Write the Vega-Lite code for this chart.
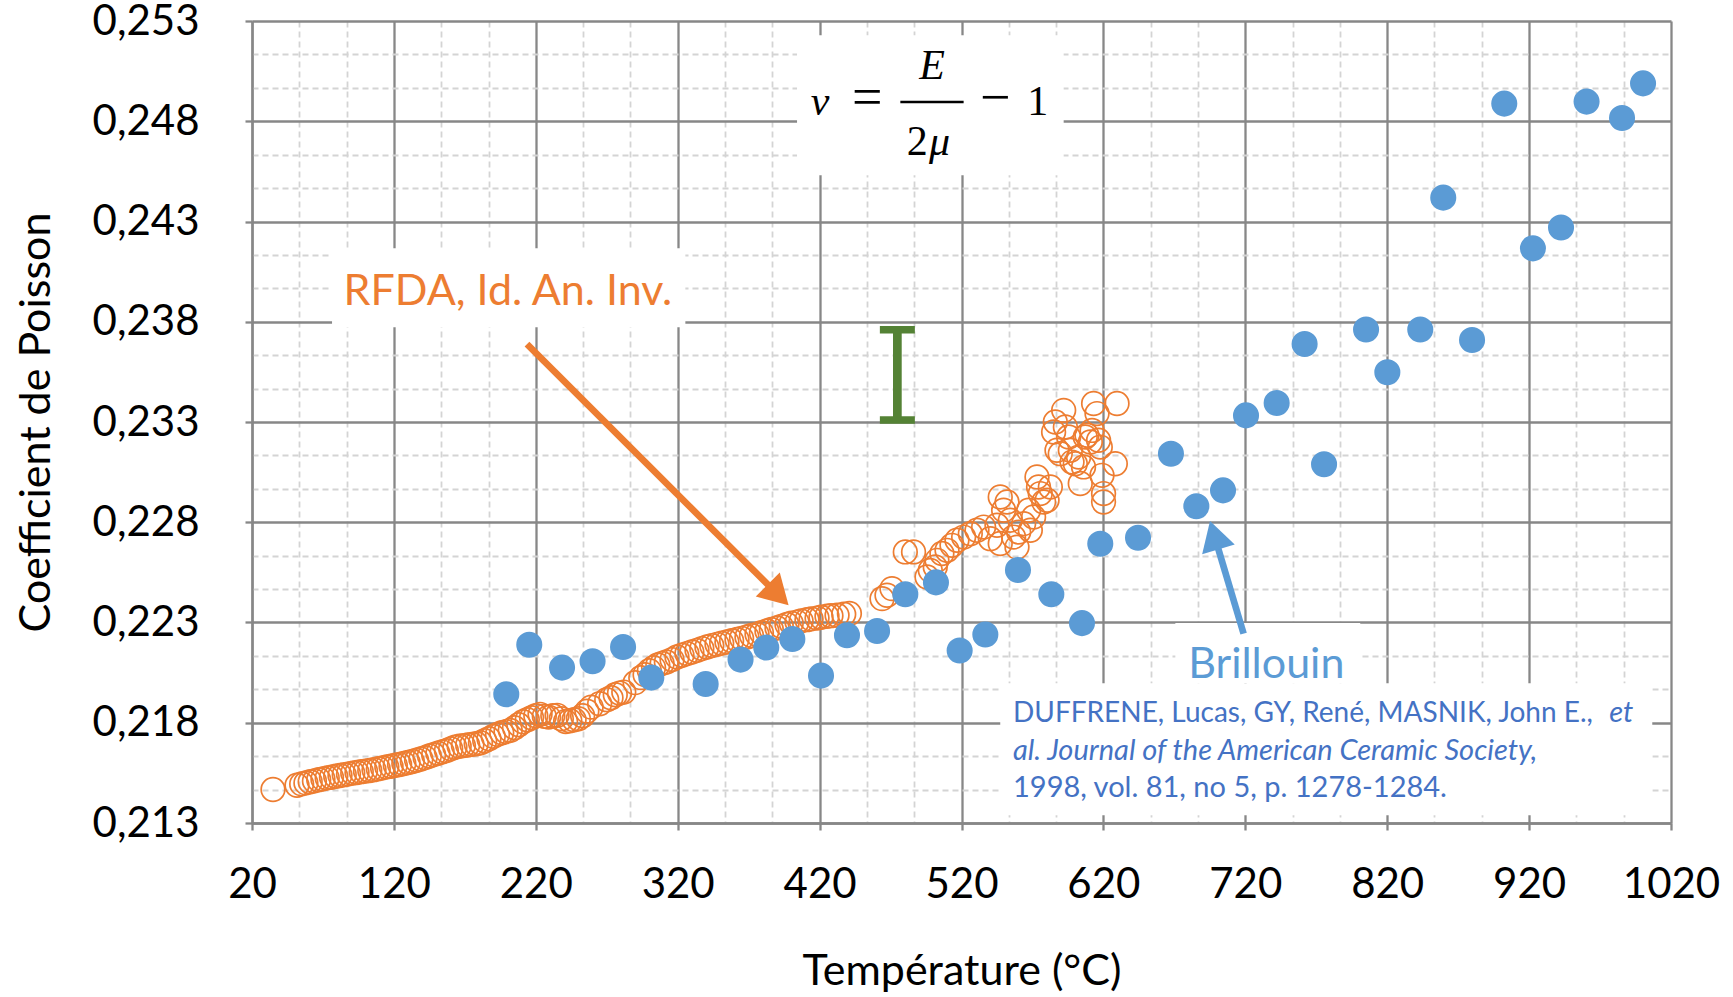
{
  "$schema": "https://vega.github.io/schema/vega-lite/v6.json",
  "width": 1419,
  "height": 802,
  "autosize": {"type": "none"},
  "padding": {"left": 252, "top": 21, "right": 62, "bottom": 174},
  "background": "white",
  "config": {"view": {"stroke": null}, "font": "Lato"},
  "datasets": {
    "rfda": [
      {"T":34.8,"nu":0.21467},{"T":51.7,"nu":0.21488},{"T":55,"nu":0.21495},{"T":58,"nu":0.215},{"T":61,"nu":0.21506},{"T":64,"nu":0.2151},{"T":67,"nu":0.21516},{"T":70,"nu":0.2152},{"T":73,"nu":0.21525},{"T":76,"nu":0.21528},{"T":79,"nu":0.21533},{"T":82,"nu":0.21537},{"T":85,"nu":0.21541},{"T":88,"nu":0.21545},{"T":91,"nu":0.21549},{"T":94,"nu":0.21552},{"T":97,"nu":0.21556},{"T":100,"nu":0.21559},{"T":103,"nu":0.21562},{"T":106,"nu":0.21566},{"T":109,"nu":0.21571},{"T":112,"nu":0.21575},{"T":115,"nu":0.2158},{"T":118,"nu":0.21583},{"T":121,"nu":0.21588},{"T":124,"nu":0.21592},{"T":127,"nu":0.21597},{"T":130,"nu":0.21602},{"T":133,"nu":0.21607},{"T":136,"nu":0.21613},{"T":139,"nu":0.21619},{"T":142,"nu":0.21626},{"T":145,"nu":0.21634},{"T":148,"nu":0.21641},{"T":151,"nu":0.21648},{"T":154,"nu":0.21655},{"T":157,"nu":0.21661},{"T":160,"nu":0.2167},{"T":163,"nu":0.21678},{"T":166,"nu":0.21683},{"T":169,"nu":0.21686},{"T":172,"nu":0.21689},{"T":175,"nu":0.21692},{"T":178,"nu":0.21695},{"T":181,"nu":0.217},{"T":184,"nu":0.2171},{"T":187,"nu":0.2172},{"T":190,"nu":0.21732},
      {"T":193,"nu":0.21742},{"T":196,"nu":0.2175},{"T":199,"nu":0.21756},{"T":202,"nu":0.21762},{"T":205,"nu":0.21775},{"T":208,"nu":0.2179},{"T":211,"nu":0.21805},{"T":214,"nu":0.21815},{"T":217,"nu":0.21825},{"T":220,"nu":0.21835},{"T":223,"nu":0.21842},{"T":226,"nu":0.21832},{"T":229,"nu":0.21828},{"T":232,"nu":0.21835},{"T":235,"nu":0.21837},{"T":238,"nu":0.2182},{"T":241,"nu":0.21806},{"T":244,"nu":0.2181},{"T":247,"nu":0.21815},{"T":250,"nu":0.2182},{"T":253,"nu":0.21835},{"T":256,"nu":0.21858},{"T":259,"nu":0.21878},{"T":265,"nu":0.21895},{"T":270,"nu":0.21915},{"T":273,"nu":0.21925},{"T":276,"nu":0.2194},{"T":279,"nu":0.21948},{"T":282,"nu":0.21953},{"T":290,"nu":0.22},{"T":294,"nu":0.22025},{"T":297,"nu":0.2204},{"T":300,"nu":0.2206},{"T":303,"nu":0.22075},{"T":306,"nu":0.22088},{"T":309,"nu":0.22096},{"T":312,"nu":0.22103},{"T":316,"nu":0.22115},
      {"T":319.5,"nu":0.22128},{"T":323,"nu":0.22137},{"T":326.5,"nu":0.22145},{"T":330,"nu":0.22153},{"T":333.6,"nu":0.22161},{"T":337,"nu":0.2217},{"T":340.6,"nu":0.22178},{"T":344,"nu":0.22185},{"T":347.7,"nu":0.22191},{"T":351,"nu":0.22197},{"T":354.7,"nu":0.22203},{"T":358,"nu":0.22209},{"T":361.8,"nu":0.22215},{"T":365,"nu":0.22221},{"T":368.8,"nu":0.22228},{"T":372,"nu":0.22235},{"T":375.9,"nu":0.22241},{"T":379,"nu":0.22249},{"T":382.9,"nu":0.22258},{"T":386,"nu":0.22265},{"T":390,"nu":0.22273},{"T":393,"nu":0.22281},{"T":397,"nu":0.2229},{"T":400,"nu":0.22296},{"T":404.1,"nu":0.22302},{"T":407,"nu":0.22308},{"T":411.1,"nu":0.22314},{"T":414,"nu":0.22318},{"T":418.2,"nu":0.22322},{"T":421,"nu":0.22326},{"T":425.2,"nu":0.22331},{"T":428,"nu":0.22334},{"T":432.3,"nu":0.22336},{"T":437,"nu":0.22341},{"T":441,"nu":0.22345},
      {"T":464,"nu":0.22419},{"T":467.5,"nu":0.22436},{"T":471,"nu":0.22469},{"T":480.4,"nu":0.22652},{"T":486.2,"nu":0.22652},{"T":495.7,"nu":0.22527},{"T":498,"nu":0.2256},{"T":501.5,"nu":0.22577},{"T":502.7,"nu":0.2261},{"T":506.2,"nu":0.22644},{"T":509.8,"nu":0.2266},{"T":513.3,"nu":0.22685},{"T":516.8,"nu":0.2271},{"T":521.5,"nu":0.22726},{"T":526.2,"nu":0.22743},{"T":530.9,"nu":0.2276},{"T":535.6,"nu":0.22776},{"T":540.3,"nu":0.22718},{"T":545,"nu":0.22785},{"T":547.3,"nu":0.22926},{"T":547.3,"nu":0.22694},{"T":549.7,"nu":0.2286},{"T":552.1,"nu":0.22901},{"T":554.4,"nu":0.2281},{"T":556.7,"nu":0.22726},{"T":559.1,"nu":0.22676},{"T":560.3,"nu":0.22751},{"T":563.8,"nu":0.22793},{"T":567.3,"nu":0.2286},{"T":568.5,"nu":0.2276},{"T":570.8,"nu":0.22826},{"T":573.2,"nu":0.23026},{"T":574.3,"nu":0.22976},{"T":575.5,"nu":0.22943},{"T":577.9,"nu":0.22901},{"T":580.3,"nu":0.2291},{"T":582.6,"nu":0.22976},{"T":584.9,"nu":0.2325},{"T":586.1,"nu":0.233},{"T":587.3,"nu":0.23159},{"T":589.6,"nu":0.23142},{"T":592,"nu":0.23358},{"T":593.2,"nu":0.23275},{"T":595.5,"nu":0.23225},{"T":596.7,"nu":0.23159},{"T":597.9,"nu":0.231},{"T":600.2,"nu":0.23092},{"T":602.5,"nu":0.23125},{"T":603.7,"nu":0.22993},{"T":606,"nu":0.23076},{"T":607.2,"nu":0.23225},{"T":608.4,"nu":0.23234},{"T":610.8,"nu":0.232},{"T":612,"nu":0.23258},{"T":613.1,"nu":0.23392},{"T":615.5,"nu":0.23342},{"T":616.6,"nu":0.23209},{"T":617.8,"nu":0.23175},{"T":619,"nu":0.23034},{"T":620.1,"nu":0.22943},{"T":620.1,"nu":0.22901},{"T":628.4,"nu":0.23092},{"T":629.6,"nu":0.23392}
    ],
    "bri": [
      {"T":199.2,"nu":0.21942},{"T":215.4,"nu":0.22189},{"T":238.5,"nu":0.22075},{"T":260,"nu":0.22107},{"T":281.5,"nu":0.22178},{"T":301.4,"nu":0.22025},{"T":339.7,"nu":0.21993},{"T":364.3,"nu":0.22115},{"T":382.4,"nu":0.22175},{"T":400.8,"nu":0.22218},{"T":421,"nu":0.22035},{"T":439.3,"nu":0.22236},{"T":460.5,"nu":0.22258},{"T":480.4,"nu":0.22441},{"T":502,"nu":0.225},{"T":518.7,"nu":0.2216},{"T":536.8,"nu":0.2224},{"T":559.8,"nu":0.22562},{"T":583.3,"nu":0.22441},{"T":604.9,"nu":0.22297},{"T":617.8,"nu":0.22693},{"T":644.4,"nu":0.22723},{"T":667.6,"nu":0.23142},{"T":685.5,"nu":0.2288},{"T":704.3,"nu":0.22959},{"T":720.5,"nu":0.23333},{"T":742.1,"nu":0.23395},{"T":761.8,"nu":0.23689},{"T":775.5,"nu":0.23089},{"T":805.1,"nu":0.23761},{"T":820.1,"nu":0.23548},{"T":843.3,"nu":0.23761},{"T":859.5,"nu":0.24419},{"T":879.8,"nu":0.23709},{"T":902.5,"nu":0.24888},{"T":922.7,"nu":0.24166},{"T":942.5,"nu":0.2427},{"T":960.5,"nu":0.24898},{"T":985.5,"nu":0.24816},{"T":1000.3,"nu":0.24989}
    ],
    "boxes": [
      {"T":76.4,"T2":325.4,"nu":0.241663,"nu2":0.237723},
      {"T":404.1,"T2":592.0,"nu":0.252287,"nu2":0.245304},
      {"T":670.7,"T2":801.0,"nu":0.222975,"nu2":0.219968},
      {"T":547.3,"T2":1006.8,"nu":0.219968,"nu2":0.213384}
    ],
    "ibar": [{"T":474.8,"lo":0.2331,"hi":0.2376}],
    "arrows": [
      {"name":"RFDA","T":213.8,"nu":0.23688,"T2":390.8,"nu2":0.224377},
      {"name":"Brillouin","T":718.8,"nu":0.222446,"T2":698.1,"nu2":0.227354}
    ],
    "labels": [
      {"name":"RFDA","label":"RFDA, Id. An. Inv.","T":200.3,"nu":0.23882},
      {"name":"Brillouin","label":"Brillouin","T":734.8,"nu":0.220252}
    ],
    "refLine1": [
      {"label":"DUFFRENE, Lucas, GY, René, MASNIK, John E.,","T":556.3,"nu":0.218037}
    ],
    "refNormal": [
      {"label":"1998, vol. 81, no 5, p. 1278-1284.","T":556.3,"nu":0.214297}
    ],
    "refItalic": [
      {"label":"et","T":976.5,"nu":0.218037},
      {"label":"al. Journal of the American Ceramic Society,","T":556.3,"nu":0.216162}
    ],
    "formulaOp": [
      {"label":"=","T":453.6,"nu":0.2483},
      {"label":"−","T":543.8,"nu":0.2483}
    ],
    "formulaUp": [
      {"label":"1","T":573.8,"nu":0.2483},
      {"label":"2","T":488.9,"nu":0.2463}
    ],
    "formulaIt": [
      {"label":"ν","T":420.3,"nu":0.2483},
      {"label":"E","T":499.2,"nu":0.25013},
      {"label":"μ","T":504.6,"nu":0.2463}
    ],
    "fracbar": [{"T":476.9,"T2":521.5,"nu":0.24896}]
  },
  "layer": [
    {
      "data": {"name": "boxes"},
      "mark": {"type": "rect", "color": "white", "opacity": 1},
      "encoding": {
        "x": {"field": "T", "type": "quantitative",
          "scale": {"domain": [20, 1020], "nice": false, "zero": false},
          "axis": {"orient": "bottom", "values": [53.333,86.667,153.333,186.667,253.333,286.667,353.333,386.667,453.333,486.667,553.333,586.667,653.333,686.667,753.333,786.667,853.333,886.667,953.333,986.667],
            "grid": true, "gridColor": "#d4d4d4", "gridWidth": 1.8, "gridDash": [6, 4],
            "labels": false, "ticks": false, "domain": false, "title": null}},
        "x2": {"field": "T2"},
        "y": {"field": "nu", "type": "quantitative",
          "scale": {"domain": [0.213, 0.253], "nice": false, "zero": false},
          "axis": {"orient": "left", "values": [0.2146667,0.2163333,0.2196667,0.2213333,0.2246667,0.2263333,0.2296667,0.2313333,0.2346667,0.2363333,0.2396667,0.2413333,0.2446667,0.2463333,0.2496667,0.2513333],
            "grid": true, "gridColor": "#d4d4d4", "gridWidth": 1.8, "gridDash": [6, 4],
            "labels": false, "ticks": false, "domain": false, "title": null}},
        "y2": {"field": "nu2"}
      }
    },
    {
      "data": {"name": "rfda"},
      "mark": {"type": "point", "shape": "circle", "filled": false, "stroke": "#ED7D31", "strokeWidth": 1.7, "size": 560, "opacity": 1},
      "encoding": {
        "x": {"field": "T", "type": "quantitative",
          "axis": {"orient": "bottom", "values": [20,120,220,320,420,520,620,720,820,920,1020], "format": "d",
            "labelFont": "Lato", "labelFontSize": 42, "labelColor": "#000000", "labelPadding": 34, "labelFlush": false, "labelOverlap": false,
            "tickSize": 7, "tickWidth": 2.3, "tickColor": "#878787",
            "domainColor": "#878787", "domainWidth": 2.3,
            "grid": true, "gridColor": "#878787", "gridWidth": 2.3,
            "title": "Température (°C)", "titleFont": "Lato", "titleFontSize": 43, "titleFontWeight": "normal", "titleColor": "#000000",
            "titleX": 709.5, "titleY": 161, "titleAlign": "center", "titleBaseline": "alphabetic", "titleAngle": 0}},
        "y": {"field": "nu", "type": "quantitative",
          "axis": {"orient": "left", "values": [0.213,0.218,0.223,0.228,0.233,0.238,0.243,0.248,0.253],
            "labelExpr": "replace(format(datum.value, '.3f'), '.', ',')",
            "labelFont": "Lato", "labelFontSize": 42, "labelColor": "#000000", "labelPadding": 46, "labelOverlap": false, "labelFlush": false,
            "tickSize": 7, "tickWidth": 2.3, "tickColor": "#878787",
            "domainColor": "#878787", "domainWidth": 2.3,
            "grid": true, "gridColor": "#878787", "gridWidth": 2.3,
            "title": "Coefficient de Poisson", "titleFont": "Lato", "titleFontSize": 43, "titleFontWeight": "normal", "titleColor": "#000000",
            "titleX": -203, "titleY": 401, "titleAlign": "center", "titleBaseline": "alphabetic", "titleAngle": -90}}
      }
    },
    {
      "data": {"name": "bri"},
      "mark": {"type": "circle", "color": "#5B9BD5", "size": 680, "opacity": 1},
      "encoding": {
        "x": {"field": "T", "type": "quantitative", "axis": null},
        "y": {"field": "nu", "type": "quantitative", "axis": null}
      }
    },
    {
      "data": {"name": "ibar"},
      "mark": {"type": "rule", "color": "#548235", "strokeWidth": 8.7},
      "encoding": {
        "x": {"field": "T", "type": "quantitative", "axis": null},
        "y": {"field": "lo", "type": "quantitative", "axis": null},
        "y2": {"field": "hi"}
      }
    },
    {
      "data": {"name": "ibar"},
      "mark": {"type": "tick", "orient": "horizontal", "color": "#548235", "size": 35, "thickness": 7.5, "opacity": 1},
      "encoding": {
        "x": {"field": "T", "type": "quantitative", "axis": null},
        "y": {"field": "lo", "type": "quantitative", "axis": null}
      }
    },
    {
      "data": {"name": "ibar"},
      "mark": {"type": "tick", "orient": "horizontal", "color": "#548235", "size": 35, "thickness": 7.5, "opacity": 1},
      "encoding": {
        "x": {"field": "T", "type": "quantitative", "axis": null},
        "y": {"field": "hi", "type": "quantitative", "axis": null}
      }
    },
    {
      "data": {"name": "arrows"},
      "mark": {"type": "rule", "strokeWidth": 6.7},
      "encoding": {
        "x": {"field": "T", "type": "quantitative", "axis": null},
        "y": {"field": "nu", "type": "quantitative", "axis": null},
        "x2": {"field": "T2"},
        "y2": {"field": "nu2"},
        "color": {"field": "name", "type": "nominal", "scale": {"domain": ["RFDA", "Brillouin"], "range": ["#ED7D31", "#5B9BD5"]}, "legend": null}
      }
    },
    {
      "data": {"name": "arrows"},
      "transform": [{"filter": "datum.name === 'RFDA'"}],
      "mark": {"type": "point", "shape": "triangle-up", "filled": true, "size": 1156, "angle": 135, "opacity": 1, "strokeWidth": 0},
      "encoding": {
        "x": {"field": "T2", "type": "quantitative", "axis": null},
        "y": {"field": "nu2", "type": "quantitative", "axis": null},
        "color": {"field": "name", "type": "nominal", "legend": null}
      }
    },
    {
      "data": {"name": "arrows"},
      "transform": [{"filter": "datum.name === 'Brillouin'"}],
      "mark": {"type": "point", "shape": "triangle-up", "filled": true, "size": 1156, "angle": 343.4, "opacity": 1, "strokeWidth": 0},
      "encoding": {
        "x": {"field": "T2", "type": "quantitative", "axis": null},
        "y": {"field": "nu2", "type": "quantitative", "axis": null},
        "color": {"field": "name", "type": "nominal", "legend": null}
      }
    },
    {
      "data": {"name": "labels"},
      "mark": {"type": "text", "font": "Lato", "fontSize": 43, "align": "center", "baseline": "alphabetic"},
      "encoding": {
        "x": {"field": "T", "type": "quantitative", "axis": null},
        "y": {"field": "nu", "type": "quantitative", "axis": null},
        "text": {"field": "label"},
        "color": {"field": "name", "type": "nominal", "legend": null}
      }
    },
    {
      "data": {"name": "refLine1"},
      "mark": {"type": "text", "font": "Lato", "fontSize": 28, "align": "left", "baseline": "alphabetic", "color": "#4472C4"},
      "encoding": {
        "x": {"field": "T", "type": "quantitative", "axis": null},
        "y": {"field": "nu", "type": "quantitative", "axis": null},
        "text": {"field": "label"}
      }
    },
    {
      "data": {"name": "refNormal"},
      "mark": {"type": "text", "font": "Lato", "fontSize": 29, "align": "left", "baseline": "alphabetic", "color": "#4472C4"},
      "encoding": {
        "x": {"field": "T", "type": "quantitative", "axis": null},
        "y": {"field": "nu", "type": "quantitative", "axis": null},
        "text": {"field": "label"}
      }
    },
    {
      "data": {"name": "refItalic"},
      "mark": {"type": "text", "font": "Lato", "fontSize": 29, "fontStyle": "italic", "align": "left", "baseline": "alphabetic", "color": "#4472C4"},
      "encoding": {
        "x": {"field": "T", "type": "quantitative", "axis": null},
        "y": {"field": "nu", "type": "quantitative", "axis": null},
        "text": {"field": "label"}
      }
    },
    {
      "data": {"name": "formulaOp"},
      "mark": {"type": "text", "font": "Liberation Serif", "fontSize": 54, "align": "center", "baseline": "alphabetic", "color": "#000000"},
      "encoding": {
        "x": {"field": "T", "type": "quantitative", "axis": null},
        "y": {"field": "nu", "type": "quantitative", "axis": null},
        "text": {"field": "label"}
      }
    },
    {
      "data": {"name": "formulaUp"},
      "mark": {"type": "text", "font": "Liberation Serif", "fontSize": 42, "align": "center", "baseline": "alphabetic", "color": "#000000"},
      "encoding": {
        "x": {"field": "T", "type": "quantitative", "axis": null},
        "y": {"field": "nu", "type": "quantitative", "axis": null},
        "text": {"field": "label"}
      }
    },
    {
      "data": {"name": "formulaIt"},
      "mark": {"type": "text", "font": "Liberation Serif", "fontSize": 42, "fontStyle": "italic", "align": "center", "baseline": "alphabetic", "color": "#000000"},
      "encoding": {
        "x": {"field": "T", "type": "quantitative", "axis": null},
        "y": {"field": "nu", "type": "quantitative", "axis": null},
        "text": {"field": "label"}
      }
    },
    {
      "data": {"name": "fracbar"},
      "mark": {"type": "rule", "color": "#000000", "strokeWidth": 2.7},
      "encoding": {
        "x": {"field": "T", "type": "quantitative", "axis": null},
        "x2": {"field": "T2"},
        "y": {"field": "nu", "type": "quantitative", "axis": null}
      }
    }
  ],
  "resolve": {"axis": {"x": "independent", "y": "independent"}}
}
